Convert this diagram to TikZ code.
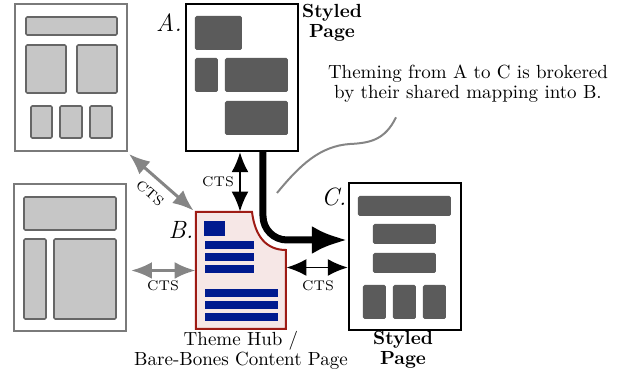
\documentclass[tikz,border=0pt]{standalone}
\usetikzlibrary{arrows.meta}
\definecolor{pagegray}{HTML}{7A7A7A}
\definecolor{blockgray}{HTML}{C6C6C6}
\definecolor{blockline}{HTML}{666666}
\definecolor{darkblock}{HTML}{5B5B5B}
\definecolor{hubfill}{HTML}{F6E7E6}
\definecolor{hubline}{HTML}{9E1B14}
\definecolor{hubblue}{HTML}{001A8F}
\definecolor{arrowgray}{HTML}{858585}

\begin{document}
\begin{tikzpicture}[x=0.5pt,y=-0.5pt,
  page/.style={draw,line width=1.2pt,fill=white,inner sep=0pt,rectangle,minimum width=56pt,minimum height=73.5pt},
  greypage/.style={page,draw=pagegray,line width=1pt},
  light/.style={fill=blockgray,draw=blockline,line width=0.8pt,rounded corners=0.6pt},
  dark/.style={fill=darkblock,rounded corners=0.8pt},
  bar/.style={fill=hubblue},
  cts/.style={font=\fontsize{7}{8}\selectfont,inner sep=1pt},
  letter/.style={font=\fontsize{12.5}{14}\selectfont\itshape},
  label/.style={font=\fontsize{9.5}{10}\selectfont,align=center},
  stylelabel/.style={font=\fontsize{9.5}{10}\selectfont\bfseries,align=center},
  greyarrow/.style={{Latex[length=10.5pt,width=8.5pt]}-{Latex[length=10.5pt,width=8.5pt]},draw=arrowgray,fill=arrowgray,line width=1.5pt},
  blackarrow/.style={{Latex[length=10pt,width=8.5pt]}-{Latex[length=10pt,width=8.5pt]},line width=0.9pt}
]
\useasboundingbox (0,0) rectangle (618,373);

\node[greypage] (pageTL) at (71,77.5) {};
\draw[light] (26,17) rectangle (117,35);
\draw[light] (26,45) rectangle (66,93);
\draw[light] (77,45) rectangle (117,93);
\draw[light] (31,106) rectangle (52,138);
\draw[light] (60,106) rectangle (82,138);
\draw[light] (90,106) rectangle (112,138);

\node[greypage] (pageBL) at (70,257.5) {};
\draw[light] (24,197) rectangle (116,230);
\draw[light] (24,239) rectangle (46,319);
\draw[light] (54,239) rectangle (116,319);

\node[page] (pageA) at (242,77.5) {};
\fill[dark] (195,16) rectangle (242,50);
\fill[dark] (195,58) rectangle (218,92);
\fill[dark] (225,58) rectangle (288,92);
\fill[dark] (225,101) rectangle (288,135);

\node[inner sep=0pt,minimum width=45pt,minimum height=58.5pt] (pageB) at (241,270.5) {};
\draw[hubline,fill=hubfill,line width=1pt] (196,212) -- (252,212) .. controls (255,236) and (266,250) .. (286,250) -- (286,329) -- (196,329) -- cycle;
\fill[bar] (204,221) rectangle (225,236);
\fill[bar] (205,241) rectangle (254,249);
\fill[bar] (205,253) rectangle (254,261);
\fill[bar] (205,265) rectangle (254,273);
\fill[bar] (205,289) rectangle (278,297);
\fill[bar] (205,301) rectangle (278,309);
\fill[bar] (205,313) rectangle (278,321);

\node[page] (pageC) at (405,256.5) {};
\fill[dark] (358,196) rectangle (451,216);
\fill[dark] (373,224) rectangle (436,244);
\fill[dark] (373,253) rectangle (436,273);
\fill[dark] (363,285) rectangle (386,319);
\fill[dark] (393,285) rectangle (416,319);
\fill[dark] (423,285) rectangle (446,319);

\draw[-{Latex[length=18pt,width=14pt]},line width=3.5pt,rounded corners=12pt] ([xshift=10.5pt]pageA.south) |- ([yshift=8.25pt]pageC.west);

\draw[greyarrow] ([shift={(0.5pt,-1pt)}]pageTL.south east) -- ([shift={(-1pt,0.5pt)}]pageB.north west);
\draw[greyarrow] ([xshift=2pt]pageB.west -| pageBL.east) -- (pageB.west);
\draw[blackarrow] ([xshift=-1pt]pageA.south) -- ([xshift=-1pt]pageA.south |- pageB.north);
\draw[blackarrow] ([yshift=1.5pt]pageB.east) -- ([yshift=1.5pt]pageB.east -| pageC.west);

\node[cts,rotate=-41] at (150,193) {CTS};
\node[cts] at (218,182) {CTS};
\node[cts] at (163,286) {CTS};
\node[cts] at (318,286) {CTS};

\node[letter] at (169,23) {A.};
\node[letter] at (181,230) {B.};
\node[letter] at (334,197) {C.};

\node[stylelabel] at (332,23) {Styled\\Page};
\node[stylelabel] at (403,350) {Styled\\Page};
\node[label] at (241,350) {Theme Hub /\\Bare-Bones Content Page};
\node[label] (note) at (468,83.5) {Theming from A to C is brokered\\by their shared mapping into B.};

\draw[arrowgray,line width=1pt] ([xshift=-36pt,yshift=-4pt]note.south) .. controls (385,140) and (370,143) .. (350,144) .. controls (320,146) and (300,165) .. (277,193);
\end{tikzpicture}
\end{document}
